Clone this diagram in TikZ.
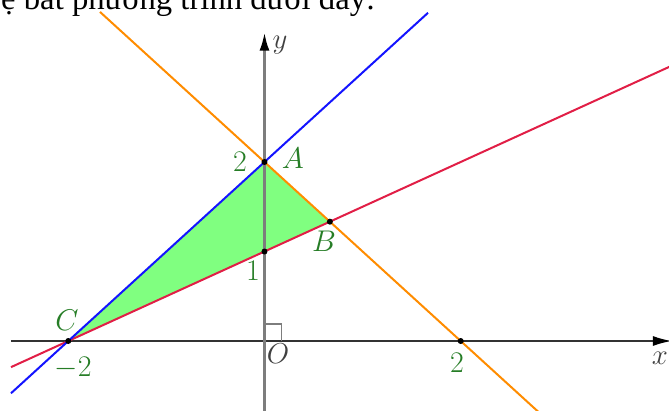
\documentclass[tikz,border=0pt]{standalone}
\usepackage{fontspec}
\newfontfamily\textserif{Liberation Serif}
\usetikzlibrary{arrows.meta}
\definecolor{lblgreen}{RGB}{38,125,38}
\definecolor{fillgreen}{RGB}{128,255,128}
\definecolor{lorange}{RGB}{255,140,0}
\definecolor{lred}{RGB}{225,30,70}
\definecolor{lblue}{RGB}{20,20,255}
\definecolor{axisx}{RGB}{50,50,50}
\definecolor{axisy}{RGB}{125,125,125}
\tikzset{
  lbl/.style={text=lblgreen, font=\LARGE, scale=1.3, inner sep=0pt},
  axlbl/.style={text=black!75, font=\LARGE, scale=1.25, inner sep=0pt},
  dotpt/.style={circle, fill=black, inner sep=0pt, minimum size=4.5pt},
  gline/.style={line width=1.5pt},
}
\begin{document}
\begin{tikzpicture}[x=73.575pt, y=67.125pt]
\useasboundingbox (-2.696,-0.771) rectangle (4.1233,3.810);
\clip (-2.696,-0.771) rectangle (4.1233,3.810);
% top text (cropped line)
\node[anchor=base west, inner sep=0pt, font=\textserif\fontsize{24.5}{28}\selectfont] (toptext) at (-2.686,3.709) {ệ bất phương trình dưới đây:};
% points
\coordinate (A) at (0,2);
\coordinate (B) at (2/3,4/3);
\coordinate (C) at (-2,0);
\coordinate (P1) at (0,1);
\coordinate (P2) at (2,0);
\coordinate (O) at (0,0);
% region
\fill[fillgreen] (A) -- (B) -- (C) -- cycle;
% axes
\coordinate (xs) at (-2.584,0);
\coordinate (xe) at (4.15,0);
\coordinate (ys) at (0,-0.9);
\coordinate (ye) at (0,3.453);
\draw[axisx, line width=1.2pt, -{Latex[length=14pt,width=7.5pt,black]}] (xs) -- (xe);
\draw[axisy, line width=2.2pt, -{Latex[length=14pt,width=7.5pt,black]}] (ys) -- (ye);
\draw[axisy, line width=0.9pt] (0,0.19) -- (0.173,0.19) -- (0.173,0);
% lines
\coordinate (bl1) at (-2.584,-0.584);
\coordinate (bl2) at (1.667,3.667);
\coordinate (rd1) at (-2.584,-0.292);
\coordinate (rd2) at (4.2,3.1);
\coordinate (or1) at (-1.677,3.677);
\coordinate (or2) at (2.9,-0.9);
\draw[gline, lorange] (or1) -- (or2);
\draw[gline, lred] (rd1) -- (rd2);
\draw[gline, lblue] (bl1) -- (bl2);
% dots
\node[dotpt] (dA) at (A) {};
\node[dotpt] (dB) at (B) {};
\node[dotpt] (dC) at (C) {};
\node[dotpt] (d1) at (P1) {};
\node[dotpt] (d2) at (P2) {};
% labels
\node[lbl] (l2y) at (-0.25,2.0) {$2$};
\node[lbl] (lA) at (0.29,2.045) {$A$};
\node[lbl] (lB) at (0.607,1.117) {$B$};
\node[lbl] (l1) at (-0.117,0.782) {$1$};
\node[lbl] (lC) at (-2.013,0.235) {$C$};
\node[lbl] (lm2) at (-1.952,-0.302) {$-2$};
\node[lbl] (l2x) at (1.962,-0.246) {$2$};
\node[axlbl] (lO) at (0.138,-0.145) {$O$};
\node[axlbl] (lx) at (4.03,-0.19) {$x$};
\node[axlbl] (ly) at (0.158,3.307) {$y$};
\end{tikzpicture}
\end{document}
